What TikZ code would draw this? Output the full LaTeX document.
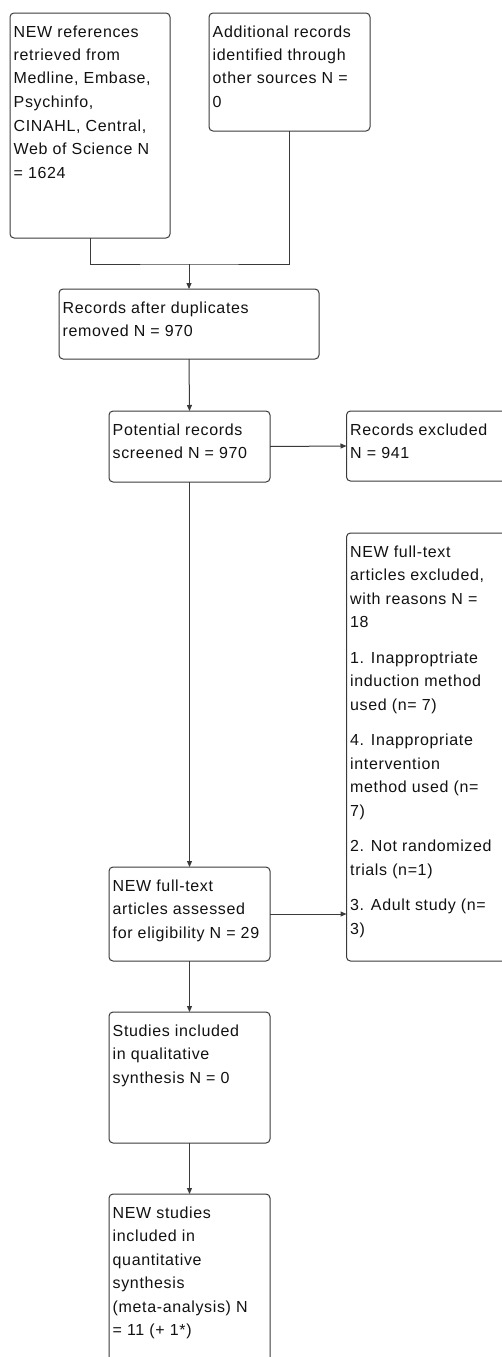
\documentclass[tikz,border=0pt]{standalone}
\usepackage{fontspec}
\setmainfont{Liberation Sans}[LetterSpace=4]
\usetikzlibrary{arrows.meta}
\definecolor{linecol}{HTML}{3A3A3A}
\definecolor{txtcol}{HTML}{111111}
\newcommand{\boxlines}[1]{\begin{tabular}[t]{@{}l@{}}#1\end{tabular}}

\begin{document}
\begin{tikzpicture}[x=1pt, y=-1pt, >={Triangle[length=6pt, width=5pt]},
  box/.style={draw=linecol, line width=1pt, rounded corners=4pt, anchor=north west, inner sep=0pt, outer sep=0pt},
  txt/.style={anchor=base west, inner sep=0pt, text=txtcol, font=\fontsize{16}{23.5}\selectfont, xshift=3.5pt, yshift=-24pt},
  link/.style={draw=linecol, line width=1pt}]
\useasboundingbox (0,0) rectangle (502,1357);
\clip (0,0) rectangle (502,1357);
% identification
\node[box, minimum width=160, minimum height=225] (refs) at (10,13) {};
\node[txt] (refs-t) at (refs.north west) {\boxlines{NEW references\\retrieved from\\Medline, Embase,\\Psychinfo,\\CINAHL, Central,\\Web of Science N\\= 1624}};
\node[box, minimum width=161, minimum height=118] (other) at (209,13) {};
\node[txt] (other-t) at (other.north west) {\boxlines{Additional records\\identified through\\other sources N =\\0}};
\node[box, minimum width=260, minimum height=70] (dedup) at (59,289) {};
\node[txt] (dedup-t) at (dedup.north west) {\boxlines{Records after duplicates\\removed N = 970}};
% screening
\node[box, minimum width=161, minimum height=71] (screen) at (109,411) {};
\node[txt] (screen-t) at (screen.north west) {\boxlines{Potential records\\screened N = 970}};
\node[box, minimum width=170, minimum height=70] (excl) at (346.5,411) {};
\node[txt] (excl-t) at (excl.north west) {\boxlines{Records excluded\\N = 941}};
% eligibility
\node[box, minimum width=170, minimum height=428] (reasons) at (346.5,533) {};
\node[txt] (reasons-t) at (reasons.north west) {\boxlines{NEW full-text\\articles excluded,\\with reasons N =\\18\\[12pt]
  1. Inapproptriate\\induction method\\used (n= 7)\\[12pt]
  4. Inappropriate\\intervention\\method used (n=\\7)\\[12pt]
  2. Not randomized\\trials (n=1)\\[12pt]
  3. Adult study (n=\\3)}};
\node[box, minimum width=161, minimum height=94] (full) at (109,867) {};
\node[txt] (full-t) at (full.north west) {\boxlines{NEW full-text\\articles assessed\\for eligibility N = 29}};
% included
\node[box, minimum width=161, minimum height=131] (qual) at (109,1012) {};
\node[txt] (qual-t) at (qual.north west) {\boxlines{Studies included\\in qualitative\\synthesis N = 0}};
\node[box, minimum width=161, minimum height=180] (quant) at (109,1194) {};
\node[txt] (quant-t) at (quant.north west) {\boxlines{NEW studies\\included in\\quantitative\\synthesis\\(meta-analysis) N\\= 11 (+ 1*)}};
% connectors
\coordinate (join) at (dedup.north |- 0,264);
\draw[link] (refs.south) |- (join) -| (other.south);
\draw[link, ->] (join) -- (dedup.north);
\draw[link, ->] (dedup.south) -- (screen.north);
\draw[link, ->] (screen.east) -- (excl.west);
\draw[link, ->] (screen.south) -- (full.north);
\draw[link, ->] (full.east) -- (full.east -| reasons.west);
\draw[link, ->] (full.south) -- (qual.north);
\draw[link, ->] (qual.south) -- (quant.north);
\end{tikzpicture}
\end{document}
